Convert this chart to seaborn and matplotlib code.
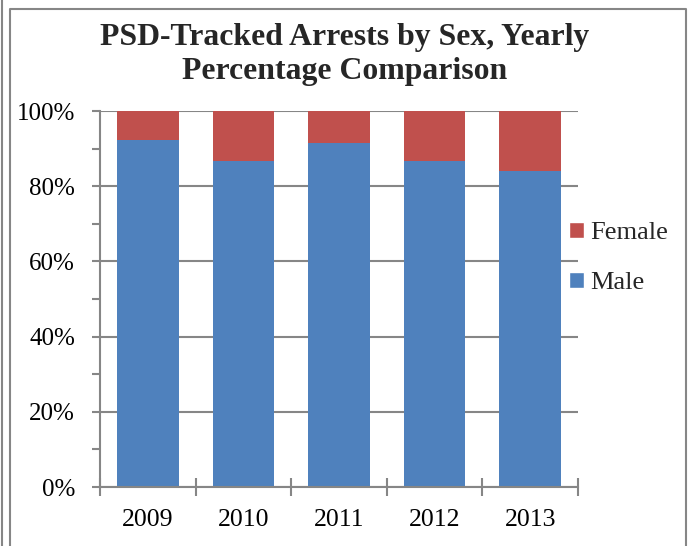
import matplotlib
matplotlib.use("Agg")
import matplotlib.pyplot as plt
from matplotlib.lines import Line2D
from matplotlib.patches import Patch
from matplotlib.ticker import MultipleLocator, FixedLocator, PercentFormatter
import seaborn as sns
import pandas as pd

# Yearly share of arrests by sex (percent)
years = ["2009", "2010", "2011", "2012", "2013"]
male_pct = [92.3, 86.7, 91.5, 86.6, 84.0]
female_pct = [7.7, 13.3, 8.5, 13.4, 16.0]

title = "PSD-Tracked Arrests by Sex, Yearly\nPercentage Comparison"
blue = "#4F81BD"
red = "#C0504D"
gray = "#868686"

sns.set_theme(style="white")
plt.rcParams["font.family"] = ["Liberation Serif", "DejaVu Serif"]

df = pd.DataFrame({"year": years, "Male": male_pct, "Female": female_pct})
df["total"] = df["Male"] + df["Female"]

fig = plt.figure(figsize=(6.94, 5.46), dpi=100)
ax = fig.add_axes([0.1441, 0.108, 0.8329 - 0.1441, 0.7967 - 0.108])

# stacked 100% bars: full column in red, male share in blue over it
sns.barplot(data=df, x="year", y="total", color=red, width=0.645,
            saturation=1, ax=ax, zorder=3, edgecolor="none")
sns.barplot(data=df, x="year", y="Male", color=blue, width=0.645,
            saturation=1, ax=ax, zorder=4, edgecolor="none")
ax.set_xlim(-0.5, len(years) - 0.5)
ax.set_ylim(0, 100)
ax.set_xlabel("")
ax.set_ylabel("")

# y axis: major every 20 %, minor every 10 %
ax.yaxis.set_major_locator(MultipleLocator(20))
ax.yaxis.set_minor_locator(MultipleLocator(10))
ax.yaxis.set_major_formatter(PercentFormatter(decimals=0))
ax.grid(axis="y", which="major", color=gray, linewidth=1.5, zorder=1)
ax.set_axisbelow(True)

# x axis: labels centred on bars, ticks on category boundaries
ax.xaxis.set_minor_locator(FixedLocator([i - 0.5 for i in range(len(years) + 1)]))

for side in ["top", "right"]:
    ax.spines[side].set_visible(False)
for side in ["left", "bottom"]:
    ax.spines[side].set_color(gray)
    ax.spines[side].set_linewidth(1.5)
    ax.spines[side].set_zorder(5)

ax.tick_params(axis="y", which="major", direction="out", length=6, width=1.5,
               color=gray, labelsize=18, pad=12, labelcolor="black", left=True)
ax.tick_params(axis="y", which="minor", direction="out", length=6, width=1.5,
               color=gray, left=True)
ax.tick_params(axis="x", which="major", length=0, labelsize=18.5, pad=16,
               labelcolor="black")
ax.tick_params(axis="x", which="minor", direction="inout", length=13, width=1.5,
               color=gray, bottom=True)

fig.text(0.497, 0.958, title, ha="center", va="top", fontsize=22.9,
         fontweight="bold", linespacing=1.22)

handles = [Patch(facecolor=red, label="Female"), Patch(facecolor=blue, label="Male")]
leg = fig.legend(handles=handles, loc="center left", bbox_to_anchor=(0.82, 0.527),
                 frameon=False, fontsize=19, handlelength=0.55, handleheight=0.55,
                 handletextpad=0.25, labelspacing=1.05, borderaxespad=0,
                 borderpad=0)

# chart frame and page edge
fig.add_artist(Line2D([0.0022, 0.0022], [0, 1], color=gray, lw=1.5,
                      transform=fig.transFigure))
fig.add_artist(Line2D([0.0151, 0.0151, 0.9885, 0.9885], [0, 0.9835, 0.9835, 0],
                      color=gray, lw=1.5, transform=fig.transFigure))

fig.savefig("out.png", dpi=100)
